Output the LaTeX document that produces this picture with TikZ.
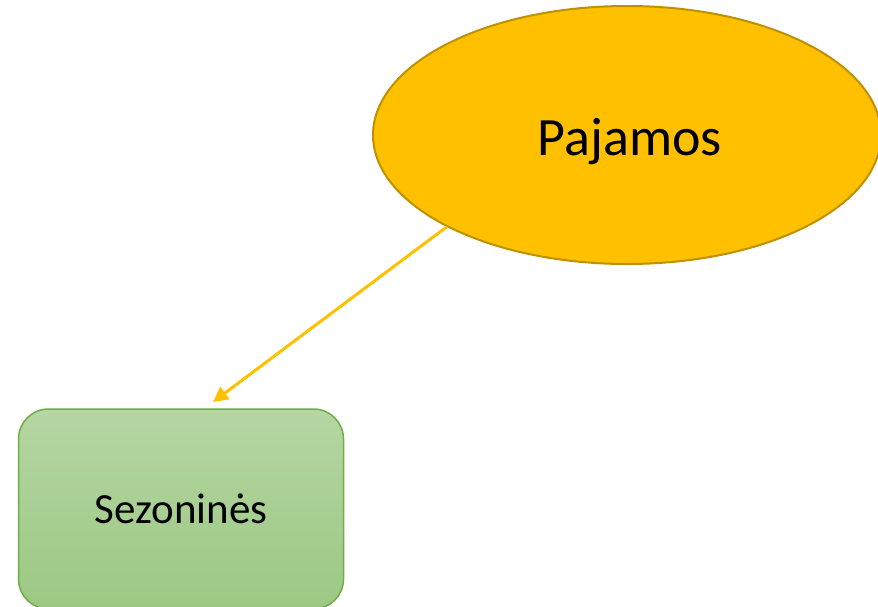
\documentclass[tikz,border=0pt]{standalone}
\usepackage{fontspec}
\setmainfont{Carlito}
\usetikzlibrary{shapes.geometric,arrows.meta}
\definecolor{gold}{HTML}{FFC000}
\definecolor{golddark}{HTML}{BF9000}
\definecolor{grtop}{HTML}{B5D6A3}
\definecolor{grbot}{HTML}{9CC883}
\definecolor{grline}{HTML}{70AD47}
\tikzset{
  oval/.style={ellipse, draw=golddark, fill=gold, line width=2pt, minimum width=508pt, minimum height=258pt, inner sep=0pt},
  box/.style={rounded corners=30pt, draw=grline, line width=1.5pt, top color=grtop, bottom color=grbot, minimum width=325pt, minimum height=200pt, inner sep=0pt},
  link/.style={draw=gold, line width=3pt, -{Triangle[length=15pt,width=15pt]}}
}
\begin{document}
\begin{tikzpicture}[x=1pt,y=-1pt]
\useasboundingbox (0,0) rectangle (878,607);
\node[oval] (inc) at (627,135) {};
\node[anchor=base, inner sep=0pt, font=\fontsize{54}{60}\selectfont] (inctext) at (630,156) {Pajamos};
\node[box, font=\fontsize{43}{50}\selectfont] (sez) at (181,509) {Sezoninės};
\coordinate (tip) at (213,402);
\draw[link] (inc.{207.5}) -- (tip);
\end{tikzpicture}
\end{document}
